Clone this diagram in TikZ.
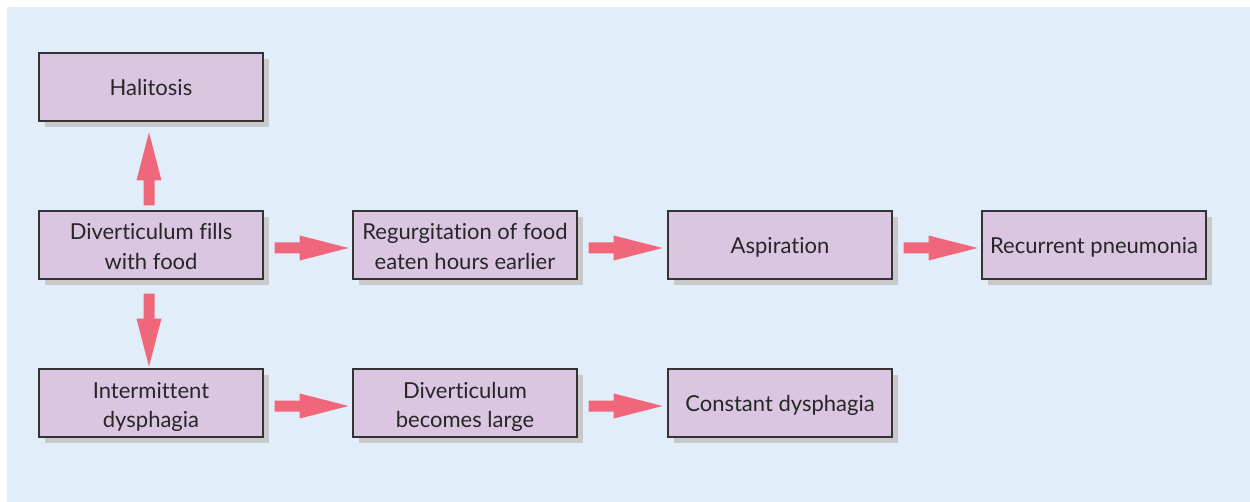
\documentclass[tikz,border=0pt]{standalone}
\usepackage{fontspec}
\setmainfont{Lato}[Ligatures=NoCommon]
\newcommand{\boxtext}[2][2.85pt]{\raisebox{-#1}[\height][\depth]{\begin{tabular}{@{}c@{}}#2\end{tabular}}}
\begin{document}
\begin{tikzpicture}[x=0.75pt,y=-0.75pt,
  box/.style={draw=black!80,line width=0.9pt,fill=boxfill,minimum width=224*0.75pt,minimum height=68*0.75pt,font=\fontsize{16.5}{22}\selectfont,text=black!85,inner sep=2pt},
  shadow/.style={fill=shadowgray,draw=none},
  bigarrow/.style={fill=arrowred,draw=none}]
\definecolor{bgblue}{HTML}{E1EEF9}
\definecolor{boxfill}{HTML}{DAC6E1}
\definecolor{shadowgray}{HTML}{C9C9CB}
\definecolor{arrowred}{HTML}{F0667B}
\useasboundingbox (0,0) rectangle (1250,502);
\fill[white] (0,0) rectangle (1250,502);
\fill[bgblue] (7,7) rectangle (1250,502);
% shadows
\foreach \x/\y in {39/53,39/211,39/369,353/211,668/211,982/211,353/369,668/369}{
  \fill[shadow] (\x+6,\y+6) rectangle (\x+230,\y+74);
}
\node[box] (hal) at (151,87) {\boxtext[1.9pt]{Halitosis}};
\node[box] (div) at (151,245) {\boxtext{Diverticulum fills\\with food}};
\node[box] (int) at (151,403) {\boxtext{Intermittent\\dysphagia}};
\node[box] (reg) at (465,245) {\boxtext{Regurgitation of food\\eaten hours earlier}};
\node[box] (asp) at (780,245) {\boxtext[1.8pt]{Aspiration}};
\node[box] (pne) at (1094,245) {\boxtext[1.8pt]{Recurrent pneumonia}};
\node[box] (lar) at (465,403) {\boxtext{Diverticulum\\becomes large}};
\node[box] (con) at (780,403) {\boxtext[1.8pt]{Constant dysphagia}};
% arrows: horizontal
\newcommand{\harrow}[2]{%
  \fill[bigarrow] ([xshift=11*0.75pt,yshift=-3*0.75pt]#1.east) ++(0,-5.5) -- ++(25,0) -- ++(0,-7) -- ++(49,12.5) -- ++(-49,12.5) -- ++(0,-7) -- ++(-25,0) -- cycle;}
\harrow{div}{reg}
\harrow{reg}{asp}
\harrow{asp}{pne}
\harrow{int}{lar}
\harrow{lar}{con}
% vertical up
\fill[bigarrow] ([xshift=-2*0.75pt,yshift=5*0.75pt]div.north) ++(-5.5,0) -- ++(0,-25) -- ++(-7,0) -- ++(12.5,-48) -- ++(12.5,48) -- ++(-7,0) -- ++(0,25) -- cycle;
% vertical down
\fill[bigarrow] ([xshift=-2*0.75pt,yshift=-14*0.75pt]div.south) ++(-5.5,0) -- ++(0,25) -- ++(-7,0) -- ++(12.5,48) -- ++(12.5,-48) -- ++(-7,0) -- ++(0,-25) -- cycle;
\end{tikzpicture}
\end{document}
